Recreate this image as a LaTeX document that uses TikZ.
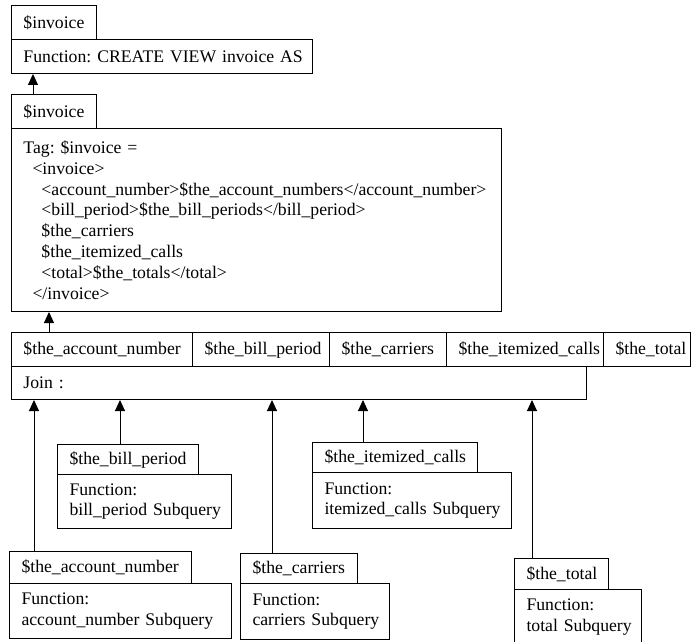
\documentclass[tikz,border=0pt]{standalone}
\usepackage{fontspec}
\setmainfont{Liberation Serif}
\usetikzlibrary{arrows.meta}
\tikzset{
  bx/.style n args={2}{draw, line width=1pt, anchor=north west, inner xsep=0pt, inner ysep=0pt,
    text width=#1, minimum height=#2,
    font=\fontsize{17.7pt}{20.8pt}\selectfont,
    execute at begin node={\raggedright\leftskip=12pt\relax\frenchspacing\hyphenpenalty=10000\relax}},
  arr/.style={draw, line width=1pt, -{Triangle[length=11pt,width=10pt]}}
}
\begin{document}
\begin{tikzpicture}[x=1pt,y=-1pt]
\useasboundingbox (0,0) rectangle (691,642);
% top
\node[bx={85pt}{34pt}] (hinv1) at (11,5) {\$invoice};
\node[bx={301pt}{34pt}] (finv) at (11,39) {Function: CREATE VIEW invoice AS};
\node[bx={85pt}{34pt}] (hinv2) at (11,94) {\$invoice};
\node[bx={490pt}{183pt}] (tag) at (11,128) {Tag: \$invoice =\\
\hspace*{9pt}<invoice>\\
\hspace*{18pt}<account\_number>\$the\_account\_numbers</account\_number>\\
\hspace*{18pt}<bill\_period>\$the\_bill\_periods</bill\_period>\\
\hspace*{18pt}\$the\_carriers\\
\hspace*{18pt}\$the\_itemized\_calls\\
\hspace*{18pt}<total>\$the\_totals</total>\\
\hspace*{9pt}</invoice>};
% join headers
\node[bx={181pt}{34pt}] (jacc) at (11,332) {\$the\_account\_number};
\node[bx={137pt}{34pt}] (jbill) at (192,332) {\$the\_bill\_period};
\node[bx={117pt}{34pt}] (jcar) at (329,332) {\$the\_carriers};
\node[bx={157pt}{34pt}] (jitem) at (446,332) {\$the\_itemized\_calls};
\node[bx={87pt}{34pt}] (jtot) at (603,332) {\$the\_total};
\node[bx={575pt}{33pt}] (join) at (11,366) {Join :};
% subqueries
\node[bx={141pt}{30pt}] (hbill) at (57,444) {\$the\_bill\_period};
\node[bx={174pt}{54pt}] (fbill) at (57,474) {Function:\\bill\_period Subquery};
\node[bx={165pt}{30pt}] (hitem) at (312,442) {\$the\_itemized\_calls};
\node[bx={199pt}{56pt}] (fitem) at (312,472) {Function:\\itemized\_calls Subquery};
\node[bx={182pt}{32pt}] (hacc) at (9,551) {\$the\_account\_number};
\node[bx={222pt}{55pt}] (facc) at (9,583) {Function:\\account\_number Subquery};
\node[bx={117pt}{30pt}] (hcar) at (240,553) {\$the\_carriers};
\node[bx={149pt}{56pt}] (fcar) at (240,583) {Function:\\carriers Subquery};
\node[bx={94pt}{31pt}] (htot) at (514,558) {\$the\_total};
\node[bx={127pt}{55pt}] (ftot) at (514,589) {Function:\\total Subquery};
% connectors
\coordinate (c1) at (33,0);
\coordinate (c2) at (49,0);
\coordinate (c3) at (34,0);
\coordinate (c4) at (120,0);
\coordinate (c5) at (272,0);
\coordinate (c6) at (363,0);
\coordinate (c7) at (532,0);
\draw[arr] (c1 |- hinv2.north) -- (c1 |- finv.south);
\draw[arr] (c2 |- jacc.north) -- (c2 |- tag.south);
\draw[arr] (c3 |- hacc.north) -- (c3 |- join.south);
\draw[arr] (c4 |- hbill.north) -- (c4 |- join.south);
\draw[arr] (c5 |- hcar.north) -- (c5 |- join.south);
\draw[arr] (c6 |- hitem.north) -- (c6 |- join.south);
\draw[arr] (c7 |- htot.north) -- (c7 |- join.south);
\end{tikzpicture}
\end{document}
